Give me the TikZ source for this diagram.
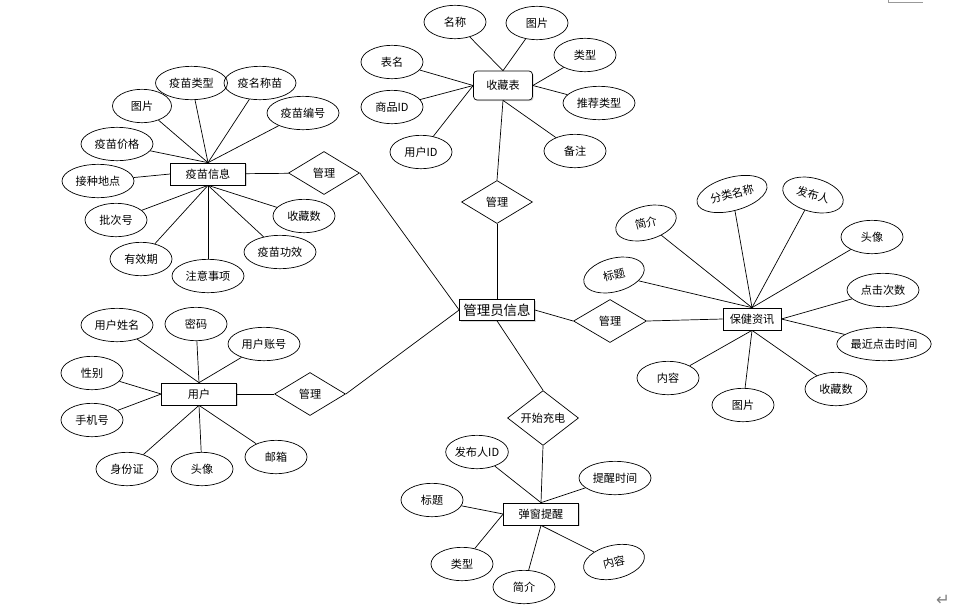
\documentclass[tikz,border=0pt]{standalone}
\usepackage{fontspec}
\setmainfont{Noto Sans CJK SC}
\newfontfamily\markfont{DejaVu Sans}
\usetikzlibrary{shapes.geometric,shadows}

\begin{document}
\begin{tikzpicture}[x=0.3mm,y=-0.3mm,
    entity/.style={draw,fill=white,line width=0.6pt,minimum width=22.5mm,
      minimum height=6.6mm,inner sep=1pt,font=\fontsize{9.5}{11}\selectfont,
      drop shadow={shadow xshift=0.35mm,shadow yshift=-0.35mm,fill=black!30}},
    attr/.style={draw,ellipse,line width=0.6pt,minimum width=18.6mm,
      minimum height=10mm,inner sep=0pt,font=\fontsize{9.5}{11}\selectfont},
    wide/.style={attr,minimum width=21.6mm},
    rel/.style={draw,diamond,fill=white,line width=0.6pt,minimum width=21.3mm,
      minimum height=12.9mm,inner sep=0pt,font=\fontsize{9.5}{11}\selectfont},
    link/.style={line width=0.6pt}
  ]
  \useasboundingbox (0,0) rectangle (963,611);

  % entities
  \node[entity] (vax) at (208,174) {疫苗信息};
  \node[entity] (user) at (199,394) {用户};
  \node[entity,rounded corners=3pt,minimum width=17.7mm,minimum height=8.7mm]
    (fav) at (503,85.5) {收藏表};
  \node[entity,minimum height=6.3mm,font=\fontsize{11.5}{13}\selectfont]
    (admin) at (497,310) {管理员信息};
  \node[entity,minimum width=17.4mm] (health) at (752,319) {保健资讯};
  \node[entity] (popup) at (541,514) {弹窗提醒};

  % relations
  \node[rel] (mgVax) at (324,173) {管理};
  \node[rel] (mgUser) at (310,394) {管理};
  \node[rel] (mgFav) at (497,202) {管理};
  \node[rel,minimum width=21.9mm] (mgHealth) at (610,321) {管理};
  \node[rel] (charge) at (543,418) {开始充电};

  \draw[link] (vax) -- (mgVax);
  \draw[link] (mgVax.east) -- (admin.west);
  \draw[link] (user) -- (mgUser);
  \draw[link] (mgUser.east) -- (admin.west);
  \draw[link] (fav.south) -- (mgFav.north);
  \draw[link] (mgFav.south) -- (admin.north);
  \draw[link] (admin.east) -- (mgHealth.west);
  \draw[link] (mgHealth.east) -- (health.west);
  \draw[link] (admin.south) -- (charge.north);
  \draw[link] (charge.south) -- (popup.north);

  % vaccine attributes
  \node[wide] (vaxType) at (191.5,83) {疫苗类型};
  \node[wide] (vaxName) at (260,83) {疫名称苗};
  \node[attr,minimum width=17.7mm] (vaxPic) at (142,106) {图片};
  \node[wide] (vaxNo) at (303,113) {疫苗编号};
  \node[wide] (vaxPrice) at (117,144) {疫苗价格};
  \node[wide] (vaxSite) at (98,181) {接种地点};
  \node[attr] (vaxBatch) at (116,220) {批次号};
  \node[attr] (vaxExp) at (141,259) {有效期};
  \node[wide] (vaxNote) at (208,276) {注意事项};
  \node[wide] (vaxEff) at (280,252) {疫苗功效};
  \node[attr] (vaxFav) at (304,216) {收藏数};
  \draw[link] (vaxType) -- (vax.north);
  \draw[link] (vaxName) -- (vax.north);
  \draw[link] (vaxPic) -- (vax.north);
  \draw[link] (vaxNo) -- (vax.north);
  \draw[link] (vaxPrice) -- (vax.north);
  \draw[link] (vaxSite) -- (vax.west);
  \draw[link] (vaxBatch) -- (vax.south);
  \draw[link] (vaxExp) -- (vax.south);
  \draw[link] (vaxNote) -- (vax.south);
  \draw[link] (vaxEff) -- (vax.south);
  \draw[link] (vaxFav) -- (vax.south);

  % user attributes
  \node[wide] (userName) at (117,325) {用户姓名};
  \node[attr] (userPwd) at (196,324) {密码};
  \node[wide] (userAcc) at (264,344) {用户账号};
  \node[attr] (userSex) at (92,373) {性别};
  \node[attr] (userTel) at (92,420) {手机号};
  \node[attr] (userId) at (127,469) {身份证};
  \node[attr] (userAvatar) at (202,469) {头像};
  \node[attr] (userMail) at (276,457) {邮箱};
  \draw[link] (userName) -- (user.north);
  \draw[link] (userPwd) -- (user.north);
  \draw[link] (userAcc) -- (user.north);
  \draw[link] (userSex) -- (user.west);
  \draw[link] (userTel) -- (user.west);
  \draw[link] (userId) -- (user.south);
  \draw[link] (userAvatar) -- (user.south);
  \draw[link] (userMail) -- (user.south);

  % favourites attributes
  \node[attr] (favName) at (455,22) {名称};
  \node[attr] (favPic) at (537,23) {图片};
  \node[attr] (favType) at (585,55) {类型};
  \node[wide] (favRec) at (599,103) {推荐类型};
  \node[attr] (favRemark) at (575,151) {备注};
  \node[attr] (favTable) at (392,62) {表名};
  \node[attr] (favGoods) at (392,107) {商品ID};
  \node[attr] (favUser) at (421,152) {用户ID};
  \draw[link] (favName) -- (fav.north);
  \draw[link] (favPic) -- (fav.north);
  \draw[link] (favType) -- (fav.east);
  \draw[link] (favRec) -- (fav.east);
  \draw[link] (favRemark) -- (fav.south);
  \draw[link] (favTable) -- (fav.west);
  \draw[link] (favGoods) -- (fav.west);
  \draw[link] (favUser) -- (fav.west);

  % health news attributes
  \node[attr,rotate=15] (hIntro) at (646,223) {简介};
  \node[wide,rotate=15] (hCat) at (732,194) {分类名称};
  \node[attr,rotate=-15] (hAuthor) at (813,195) {发布人};
  \node[attr] (hAvatar) at (872,237) {头像};
  \node[attr,rotate=15] (hTitle) at (614,275) {标题};
  \node[wide] (hClicks) at (883,290) {点击次数};
  \node[attr,minimum width=28.2mm] (hLast) at (884,344) {最近点击时间};
  \node[attr] (hFav) at (836,389) {收藏数};
  \node[attr] (hPic) at (743,405) {图片};
  \node[attr] (hBody) at (668,378) {内容};
  \draw[link] (hIntro) -- (health.north);
  \draw[link] (hCat) -- (health.north);
  \draw[link] (hAuthor) -- (health.north);
  \draw[link] (hAvatar) -- (health.north);
  \draw[link] (hTitle) -- (health.north);
  \draw[link] (hClicks) -- (health.east);
  \draw[link] (hLast) -- (health.east);
  \draw[link] (hFav) -- (health.south);
  \draw[link] (hPic) -- (health.south);
  \draw[link] (hBody) -- (health.south);

  % popup reminder attributes
  \node[attr] (pAuthor) at (477,452) {发布人ID};
  \node[wide] (pTime) at (615,478) {提醒时间};
  \node[attr] (pTitle) at (432,500) {标题};
  \node[attr] (pType) at (462,564) {类型};
  \node[attr] (pIntro) at (524,587) {简介};
  \node[attr,rotate=13] (pBody) at (614,562) {内容};
  \draw[link] (pAuthor) -- (popup.north);
  \draw[link] (pTime) -- (popup.north);
  \draw[link] (pTitle) -- (popup.west);
  \draw[link] (pType) -- (popup.west);
  \draw[link] (pIntro) -- (popup.south);
  \draw[link] (pBody) -- (popup.south);

  % page marks
  \draw[black!40,line width=0.5pt] (888,0) -- (888,2.5) -- (923,2.5);
  \node[text=black!50,font=\markfont\fontsize{14}{15}\selectfont,inner sep=0pt]
    (retMark) at (943,600) {↵};
\end{tikzpicture}
\end{document}
